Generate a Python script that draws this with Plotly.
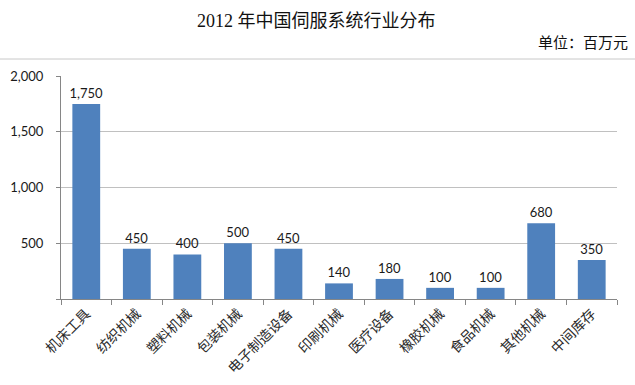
import plotly.graph_objects as go

categories = ["机床工具", "纺织机械", "塑料机械", "包装机械", "电子制造设备", "印刷机械",
              "医疗设备", "橡胶机械", "食品机械", "其他机械", "中间库存"]
values = [1750, 450, 400, 500, 450, 140, 180, 100, 100, 680, 350]
y_ticks = [0, 500, 1000, 1500, 2000]
y_tick_labels = ["", "500", "1,000", "1,500", "2,000"]

W, H = 635, 385
L, R, T, B = 61, 18, 76, 86
pw, ph = W - L - R, H - T - B

fig = go.Figure(go.Bar(
    x=categories, y=values,
    marker=dict(color="#4F81BD", line=dict(width=0)),
    width=0.55,
    texttemplate="%{y:,}", textposition="outside",
    constraintext="none",
    textfont=dict(family="Lato, Open Sans, sans-serif", size=13, color="#1a1a1a"),
    cliponaxis=False,
))

fig.update_layout(
    width=W, height=H,
    margin=dict(l=L, r=R, t=T, b=B),
    paper_bgcolor="white", plot_bgcolor="white",
    showlegend=False,
    xaxis=dict(
        type="category", tickangle=-45, tickson="boundaries",
        ticks="outside", ticklen=5, tickcolor="#868686",
        showline=True, linecolor="#868686", linewidth=1,
        showgrid=False, automargin=False,
        tickfont=dict(family="Noto Sans CJK SC", size=14, color="#2a2a2a"),
    ),
    yaxis=dict(
        range=[0, 2000], tickvals=y_ticks, ticktext=y_tick_labels,
        ticks="outside", ticklen=4, tickcolor="#868686",
        showline=True, linecolor="#868686", linewidth=1,
        showgrid=True, gridcolor="#C0C0C0", gridwidth=1,
        zeroline=False, automargin=False,
        ticklabelstandoff=10,
        tickfont=dict(family="Lato, Open Sans, sans-serif", size=13, color="#1a1a1a"),
    ),
    annotations=[
        dict(text="2012 年中国伺服系统行业分布", xref="paper", yref="paper",
             x=(316 - L) / pw, y=1 + (T - 21) / ph, xanchor="center", yanchor="middle",
             showarrow=False,
             font=dict(family="Liberation Serif, Noto Sans CJK SC", size=18, color="#111111")),
        dict(text="单位：百万元", xref="paper", yref="paper",
             x=(630 - L) / pw, y=1 + (T - 43) / ph, xanchor="right", yanchor="middle",
             showarrow=False,
             font=dict(family="Liberation Serif, Noto Sans CJK SC", size=15, color="#111111")),
    ],
    shapes=[
        dict(type="line", xref="paper", yref="paper",
             x0=-L / pw, x1=1 + R / pw, y0=1 + (T - 59) / ph, y1=1 + (T - 59) / ph,
             line=dict(color="#C8C8C8", width=1)),
    ],
)

fig.write_html("out.html")
